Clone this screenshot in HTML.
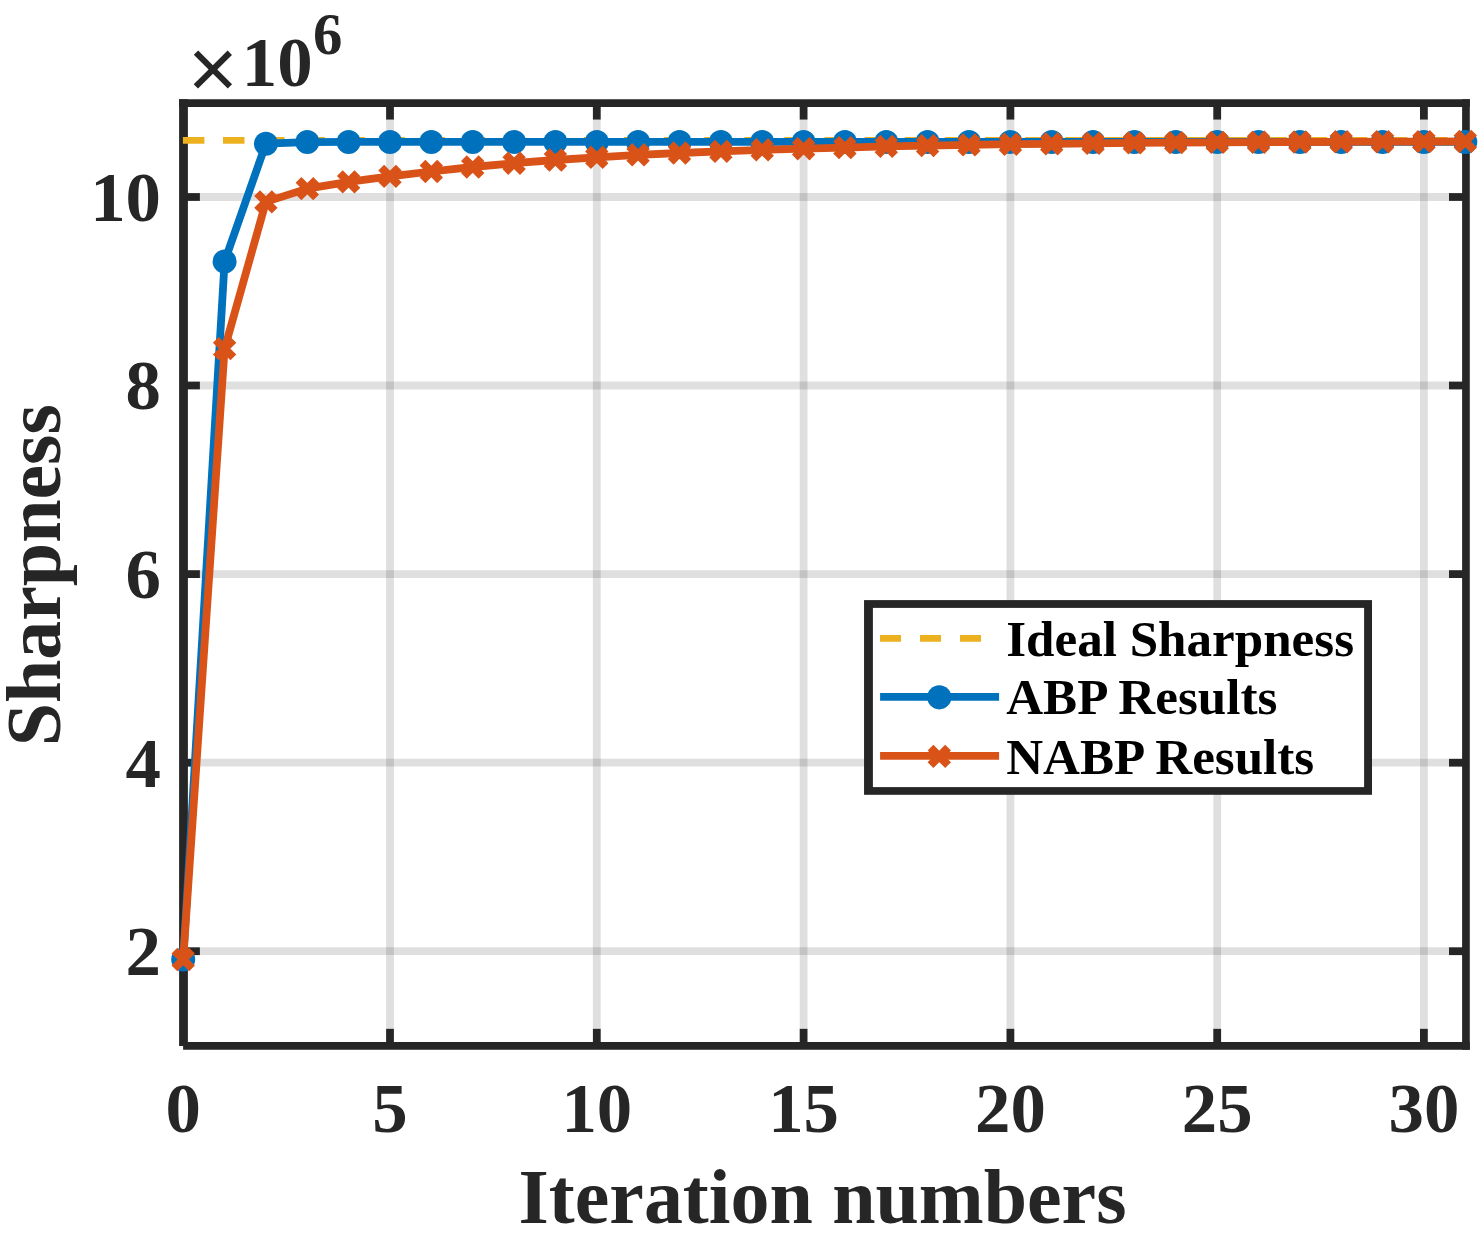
<!DOCTYPE html>
<html lang="en"><head><meta charset="utf-8"><title>Sharpness vs Iteration numbers</title>
<style>html,body{margin:0;padding:0;background:#fff}body{width:1484px;height:1245px;overflow:hidden}svg{display:block}text{font-family:"Liberation Serif","Times New Roman",serif;font-weight:bold}</style>
</head><body>
<svg width="1484" height="1245" viewBox="0 0 1484 1245">
<rect width="1484" height="1245" fill="#fff"/>
<g stroke="#262626" stroke-opacity="0.15" stroke-width="7.8" fill="none">
<line x1="390.0" y1="119.6" x2="390.0" y2="1028.8"/>
<line x1="596.8" y1="119.6" x2="596.8" y2="1028.8"/>
<line x1="803.6" y1="119.6" x2="803.6" y2="1028.8"/>
<line x1="1010.4" y1="119.6" x2="1010.4" y2="1028.8"/>
<line x1="1217.2" y1="119.6" x2="1217.2" y2="1028.8"/>
<line x1="1423.9" y1="119.6" x2="1423.9" y2="1028.8"/>
<line x1="199.9" y1="951.2" x2="1449.0" y2="951.2"/>
<line x1="199.9" y1="762.7" x2="1449.0" y2="762.7"/>
<line x1="199.9" y1="574.1" x2="1449.0" y2="574.1"/>
<line x1="199.9" y1="385.5" x2="1449.0" y2="385.5"/>
<line x1="199.9" y1="197.0" x2="1449.0" y2="197.0"/>
</g>
<g stroke="#262626" fill="none" stroke-linecap="butt">
<line x1="183.5" y1="99.2" x2="183.5" y2="1046" stroke-width="8.8"/>
<line x1="183.1" y1="1045.95" x2="1469.8" y2="1045.95" stroke-width="7.7"/>
<line x1="179.1" y1="103.05" x2="1469.8" y2="103.05" stroke-width="7.7"/>
<line x1="1465.95" y1="99.2" x2="1465.95" y2="1049.8" stroke-width="7.7"/>
<g stroke-width="7.8">
<line x1="390.0" y1="1045.5" x2="390.0" y2="1028.8"/>
<line x1="390.0" y1="102.7" x2="390.0" y2="119.6"/>
<line x1="596.8" y1="1045.5" x2="596.8" y2="1028.8"/>
<line x1="596.8" y1="102.7" x2="596.8" y2="119.6"/>
<line x1="803.6" y1="1045.5" x2="803.6" y2="1028.8"/>
<line x1="803.6" y1="102.7" x2="803.6" y2="119.6"/>
<line x1="1010.4" y1="1045.5" x2="1010.4" y2="1028.8"/>
<line x1="1010.4" y1="102.7" x2="1010.4" y2="119.6"/>
<line x1="1217.2" y1="1045.5" x2="1217.2" y2="1028.8"/>
<line x1="1217.2" y1="102.7" x2="1217.2" y2="119.6"/>
<line x1="1423.9" y1="1045.5" x2="1423.9" y2="1028.8"/>
<line x1="1423.9" y1="102.7" x2="1423.9" y2="119.6"/>
<line x1="183.2" y1="951.2" x2="199.9" y2="951.2"/>
<line x1="1465.3" y1="951.2" x2="1449.0" y2="951.2"/>
<line x1="183.2" y1="762.7" x2="199.9" y2="762.7"/>
<line x1="1465.3" y1="762.7" x2="1449.0" y2="762.7"/>
<line x1="183.2" y1="574.1" x2="199.9" y2="574.1"/>
<line x1="1465.3" y1="574.1" x2="1449.0" y2="574.1"/>
<line x1="183.2" y1="385.5" x2="199.9" y2="385.5"/>
<line x1="1465.3" y1="385.5" x2="1449.0" y2="385.5"/>
<line x1="183.2" y1="197.0" x2="199.9" y2="197.0"/>
<line x1="1465.3" y1="197.0" x2="1449.0" y2="197.0"/>
</g></g>
<defs><clipPath id="c"><rect x="182.2" y="102.7" width="1284.1" height="942.8"/></clipPath></defs>
<line x1="182.9" y1="140.4" x2="1465.3" y2="140.4" stroke="#EDB120" stroke-width="6.8" stroke-dasharray="21.5 18.6"/>
<polyline points="183.2,959.5 224.6,261.4 265.9,143.7 307.3,142.1 348.6,141.9 390.0,141.9 431.3,141.9 472.7,141.9 514.1,141.9 555.4,141.9 596.8,141.9 638.1,141.9 679.5,141.9 720.9,141.9 762.2,141.9 803.6,141.9 844.9,141.9 886.3,141.9 927.6,141.9 969.0,141.9 1010.4,141.9 1051.7,141.9 1093.1,141.9 1134.4,141.9 1175.8,141.9 1217.2,141.9 1258.5,141.9 1299.9,141.9 1341.2,141.9 1382.6,141.9 1423.9,141.9 1465.3,141.9" fill="none" stroke="#0072BD" stroke-width="7.8" stroke-linejoin="round"/>
<g fill="#0072BD">
<circle cx="183.2" cy="959.5" r="12"/>
<circle cx="224.6" cy="261.4" r="12"/>
<circle cx="265.9" cy="143.7" r="12"/>
<circle cx="307.3" cy="142.1" r="12"/>
<circle cx="348.6" cy="141.9" r="12"/>
<circle cx="390.0" cy="141.9" r="12"/>
<circle cx="431.3" cy="141.9" r="12"/>
<circle cx="472.7" cy="141.9" r="12"/>
<circle cx="514.1" cy="141.9" r="12"/>
<circle cx="555.4" cy="141.9" r="12"/>
<circle cx="596.8" cy="141.9" r="12"/>
<circle cx="638.1" cy="141.9" r="12"/>
<circle cx="679.5" cy="141.9" r="12"/>
<circle cx="720.9" cy="141.9" r="12"/>
<circle cx="762.2" cy="141.9" r="12"/>
<circle cx="803.6" cy="141.9" r="12"/>
<circle cx="844.9" cy="141.9" r="12"/>
<circle cx="886.3" cy="141.9" r="12"/>
<circle cx="927.6" cy="141.9" r="12"/>
<circle cx="969.0" cy="141.9" r="12"/>
<circle cx="1010.4" cy="141.9" r="12"/>
<circle cx="1051.7" cy="141.9" r="12"/>
<circle cx="1093.1" cy="141.9" r="12"/>
<circle cx="1134.4" cy="141.9" r="12"/>
<circle cx="1175.8" cy="141.9" r="12"/>
<circle cx="1217.2" cy="141.9" r="12"/>
<circle cx="1258.5" cy="141.9" r="12"/>
<circle cx="1299.9" cy="141.9" r="12"/>
<circle cx="1341.2" cy="141.9" r="12"/>
<circle cx="1382.6" cy="141.9" r="12"/>
<circle cx="1423.9" cy="141.9" r="12"/>
<circle cx="1465.3" cy="141.9" r="12"/>
</g>
<polyline points="183.2,959.5 224.6,348.6 265.9,201.9 307.3,188.6 348.6,181.9 390.0,176.4 431.3,171.5 472.7,167.0 514.1,163.2 555.4,160.0 596.8,157.3 638.1,154.8 679.5,153.0 720.9,151.4 762.2,149.8 803.6,148.7 844.9,147.6 886.3,146.4 927.6,145.6 969.0,144.9 1010.4,144.2 1051.7,143.8 1093.1,143.3 1134.4,142.9 1175.8,142.6 1217.2,142.4 1258.5,142.2 1299.9,142.0 1341.2,141.8 1382.6,141.7 1423.9,141.6 1465.3,141.5" fill="none" stroke="#D95319" stroke-width="7.8" stroke-linejoin="round"/>
<defs><path id="x" d="M-8.8,-8.8L8.8,8.8M-8.8,8.8L8.8,-8.8" stroke="#D95319" stroke-width="8.2" stroke-linecap="butt" fill="none"/></defs>
<use href="#x" x="183.2" y="959.5"/>
<use href="#x" x="224.6" y="348.6"/>
<use href="#x" x="265.9" y="201.9"/>
<use href="#x" x="307.3" y="188.6"/>
<use href="#x" x="348.6" y="181.9"/>
<use href="#x" x="390.0" y="176.4"/>
<use href="#x" x="431.3" y="171.5"/>
<use href="#x" x="472.7" y="167.0"/>
<use href="#x" x="514.1" y="163.2"/>
<use href="#x" x="555.4" y="160.0"/>
<use href="#x" x="596.8" y="157.3"/>
<use href="#x" x="638.1" y="154.8"/>
<use href="#x" x="679.5" y="153.0"/>
<use href="#x" x="720.9" y="151.4"/>
<use href="#x" x="762.2" y="149.8"/>
<use href="#x" x="803.6" y="148.7"/>
<use href="#x" x="844.9" y="147.6"/>
<use href="#x" x="886.3" y="146.4"/>
<use href="#x" x="927.6" y="145.6"/>
<use href="#x" x="969.0" y="144.9"/>
<use href="#x" x="1010.4" y="144.2"/>
<use href="#x" x="1051.7" y="143.8"/>
<use href="#x" x="1093.1" y="143.3"/>
<use href="#x" x="1134.4" y="142.9"/>
<use href="#x" x="1175.8" y="142.6"/>
<use href="#x" x="1217.2" y="142.4"/>
<use href="#x" x="1258.5" y="142.2"/>
<use href="#x" x="1299.9" y="142.0"/>
<use href="#x" x="1341.2" y="141.8"/>
<use href="#x" x="1382.6" y="141.7"/>
<use href="#x" x="1423.9" y="141.6"/>
<use href="#x" x="1465.3" y="141.5"/>
<g fill="#262626" font-size="70.8px">
<text x="183.2" y="1132" text-anchor="middle">0</text>
<text x="390.0" y="1132" text-anchor="middle">5</text>
<text x="596.8" y="1132" text-anchor="middle">10</text>
<text x="803.6" y="1132" text-anchor="middle">15</text>
<text x="1010.4" y="1132" text-anchor="middle">20</text>
<text x="1217.2" y="1132" text-anchor="middle">25</text>
<text x="1423.9" y="1132" text-anchor="middle">30</text>
<text x="161" y="975.0" text-anchor="end">2</text>
<text x="161" y="786.5" text-anchor="end">4</text>
<text x="161" y="597.9" text-anchor="end">6</text>
<text x="161" y="409.3" text-anchor="end">8</text>
<text x="161" y="220.8" text-anchor="end">10</text>
<text x="187.7" y="98.1" font-size="86px" style="font-family:'Liberation Sans',sans-serif;font-weight:normal">×</text>
<text x="241.8" y="85.8">10</text>
<text x="313" y="53.5" font-size="58.7px">6</text>
</g>
<text x="822.5" y="1222.8" text-anchor="middle" font-size="77.9px" fill="#262626">Iteration numbers</text>
<text transform="translate(60,575.3) rotate(-90)" text-anchor="middle" font-size="77.9px" fill="#262626">Sharpness</text>
<rect x="864.05" y="600.1" width="507.95" height="194.7" fill="#262626"/>
<rect x="872.9" y="607.9" width="491.2" height="179.2" fill="#fff"/>
<line x1="880" y1="638.4" x2="999.1" y2="638.4" stroke="#EDB120" stroke-width="6.9" stroke-dasharray="21 19"/>
<line x1="880.1" y1="696.9" x2="999.1" y2="696.9" stroke="#0072BD" stroke-width="7.9"/>
<circle cx="939.3" cy="697.3" r="12.1" fill="#0072BD"/>
<line x1="880.1" y1="755.95" x2="999.1" y2="755.95" stroke="#D95319" stroke-width="7.7"/>
<use href="#x" x="939.3" y="756.4"/>
<g fill="#000" font-size="51.1px">
<text x="1006.2" y="656">Ideal Sharpness</text>
<text x="1006.2" y="714.2">ABP Results</text>
<text x="1006.2" y="774">NABP Results</text>
</g>
</svg></body></html>
